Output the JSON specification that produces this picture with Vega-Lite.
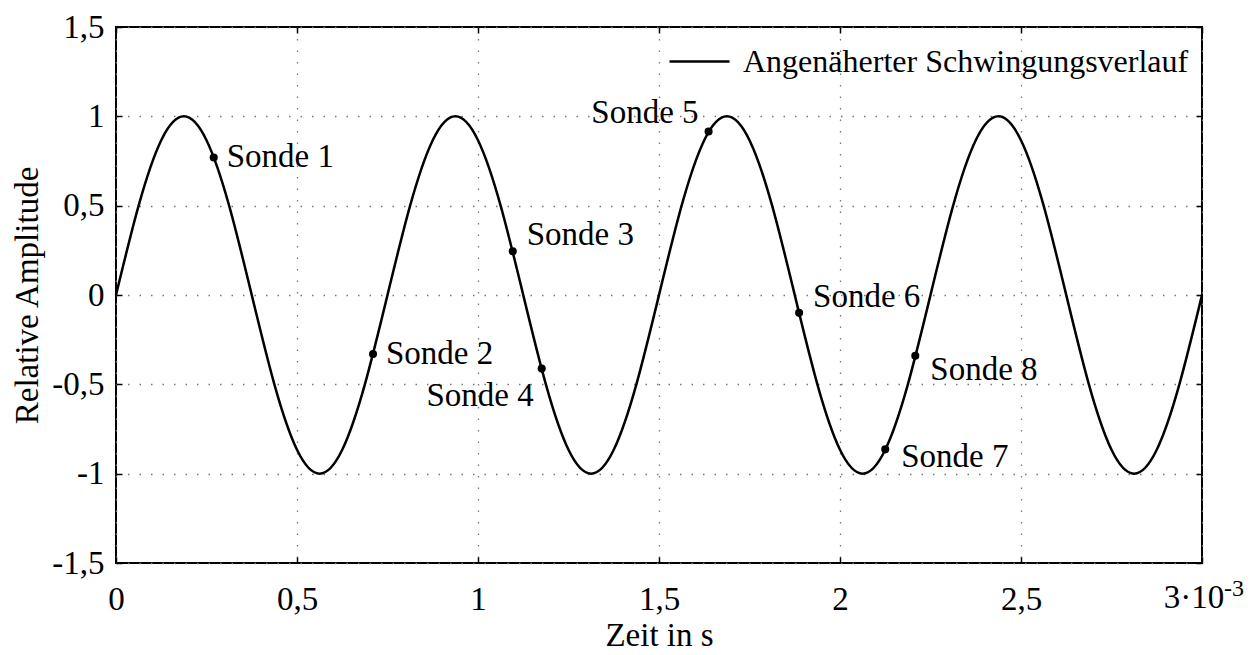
{
  "$schema": "https://vega.github.io/schema/vega-lite/v6.json",
  "width": 1086,
  "height": 536,
  "autosize": "none",
  "padding": {"left": 116, "top": 27, "right": 51, "bottom": 92},
  "background": "white",
  "config": {
    "font": "Liberation Serif",
    "view": {"stroke": "black", "strokeWidth": 2},
    "axis": {
      "domain": false,
      "tickColor": "black",
      "tickWidth": 1.5,
      "tickSize": -6,
      "labelFont": "Liberation Serif",
      "labelFontSize": 33,
      "labelColor": "black",
      "titleFont": "Liberation Serif",
      "titleFontSize": 33,
      "titleFontWeight": "normal",
      "titleColor": "black",
      "gridColor": "#777777",
      "gridWidth": 1.3,
      "gridDash": [1.5, 10]
    }
  },
  "datasets": {
    "verlauf": [
      {"t": 0, "a": 0}, {"t": 0.0625, "a": 0.5}, {"t": 0.125, "a": 0.866}, {"t": 0.1875, "a": 1},
      {"t": 0.25, "a": 0.866}, {"t": 0.3125, "a": 0.5}, {"t": 0.375, "a": 0}, {"t": 0.4375, "a": -0.5},
      {"t": 0.5, "a": -0.866}, {"t": 0.5625, "a": -1}, {"t": 0.625, "a": -0.866}, {"t": 0.6875, "a": -0.5},
      {"t": 0.75, "a": 0}, {"t": 0.8125, "a": 0.5}, {"t": 0.875, "a": 0.866}, {"t": 0.9375, "a": 1},
      {"t": 1.0, "a": 0.866}, {"t": 1.0625, "a": 0.5}, {"t": 1.125, "a": 0}, {"t": 1.1875, "a": -0.5},
      {"t": 1.25, "a": -0.866}, {"t": 1.3125, "a": -1}, {"t": 1.375, "a": -0.866}, {"t": 1.4375, "a": -0.5},
      {"t": 1.5, "a": 0}, {"t": 1.5625, "a": 0.5}, {"t": 1.625, "a": 0.866}, {"t": 1.6875, "a": 1},
      {"t": 1.75, "a": 0.866}, {"t": 1.8125, "a": 0.5}, {"t": 1.875, "a": 0}, {"t": 1.9375, "a": -0.5},
      {"t": 2.0, "a": -0.866}, {"t": 2.0625, "a": -1}, {"t": 2.125, "a": -0.866}, {"t": 2.1875, "a": -0.5},
      {"t": 2.25, "a": 0}, {"t": 2.3125, "a": 0.5}, {"t": 2.375, "a": 0.866}, {"t": 2.4375, "a": 1},
      {"t": 2.5, "a": 0.866}, {"t": 2.5625, "a": 0.5}, {"t": 2.625, "a": 0}, {"t": 2.6875, "a": -0.5},
      {"t": 2.75, "a": -0.866}, {"t": 2.8125, "a": -1}, {"t": 2.875, "a": -0.866}, {"t": 2.9375, "a": -0.5},
      {"t": 3.0, "a": 0}
    ],
    "sonden": [
      {"name": "Sonde 1", "t": 0.27, "a": 0.77},
      {"name": "Sonde 2", "t": 0.71, "a": -0.33},
      {"name": "Sonde 3", "t": 1.096, "a": 0.245},
      {"name": "Sonde 4", "t": 1.176, "a": -0.412},
      {"name": "Sonde 5", "t": 1.637, "a": 0.915},
      {"name": "Sonde 6", "t": 1.887, "a": -0.1},
      {"name": "Sonde 7", "t": 2.125, "a": -0.864},
      {"name": "Sonde 8", "t": 2.208, "a": -0.34}
    ],
    "skala": [
      {"t": 3, "a": -1.5, "basis": "3·10", "exponent": "-3"}
    ]
  },
  "resolve": {"axis": {"x": "independent", "y": "independent"}},
  "layer": [
    {
      "data": {"name": "verlauf"},
      "mark": {"type": "line", "interpolate": "natural", "strokeWidth": 2.5},
      "encoding": {
        "x": {
          "field": "t", "type": "quantitative",
          "scale": {"domain": [0, 3], "nice": false},
          "axis": {
            "values": [0, 0.5, 1, 1.5, 2, 2.5, 3],
            "labelExpr": "datum.value == 3 ? '' : replace(toString(datum.value), '.', ',')",
            "labelPadding": 26,
            "labelFlush": false,
            "grid": true,
            "title": "Zeit in s",
            "titlePadding": 3
          }
        },
        "y": {
          "field": "a", "type": "quantitative",
          "scale": {"domain": [-1.5, 1.5], "nice": false},
          "axis": {
            "values": [-1.5, -1, -0.5, 0, 0.5, 1, 1.5],
            "labelExpr": "replace(toString(datum.value), '.', ',')",
            "labelPadding": 18,
            "labelFlush": false,
            "grid": true,
            "title": "Relative Amplitude",
            "titlePadding": 7
          }
        },
        "color": {
          "datum": "Angenäherter Schwingungsverlauf",
          "type": "nominal",
          "scale": {"range": ["black"]},
          "legend": {
            "title": null,
            "orient": "none",
            "legendX": 552,
            "legendY": 3,
            "padding": 0,
            "symbolType": "stroke",
            "symbolSize": 3600,
            "symbolStrokeWidth": 2.5,
            "symbolStrokeColor": "black",
            "labelOffset": 12,
            "labelFont": "Liberation Serif",
            "labelFontSize": 32,
            "labelColor": "black",
            "labelLimit": 600
          }
        }
      }
    },
    {
      "data": {"name": "sonden"},
      "mark": {"type": "circle", "size": 65, "color": "black", "opacity": 1},
      "encoding": {
        "x": {
          "field": "t", "type": "quantitative",
          "axis": {"orient": "top", "values": [0, 0.5, 1, 1.5, 2, 2.5, 3], "labels": false, "title": null, "grid": false}
        },
        "y": {
          "field": "a", "type": "quantitative",
          "axis": {"orient": "right", "values": [-1.5, -1, -0.5, 0, 0.5, 1, 1.5], "labels": false, "title": null, "grid": false}
        }
      }
    },
    {
      "data": {"name": "skala"},
      "mark": {"type": "text", "align": "center", "baseline": "middle", "dx": -8, "dy": 35, "fontSize": 33, "font": "Liberation Serif", "color": "black"},
      "encoding": {
        "x": {"field": "t", "type": "quantitative", "axis": null},
        "y": {"field": "a", "type": "quantitative", "axis": null},
        "text": {"field": "basis"}
      }
    },
    {
      "data": {"name": "skala"},
      "mark": {"type": "text", "align": "left", "baseline": "middle", "dx": 22, "dy": 26, "fontSize": 24, "font": "Liberation Serif", "color": "black"},
      "encoding": {
        "x": {"field": "t", "type": "quantitative", "axis": null},
        "y": {"field": "a", "type": "quantitative", "axis": null},
        "text": {"field": "exponent"}
      }
    },
    {
      "data": {"name": "sonden"},
      "transform": [{"filter": {"field": "name", "oneOf": ["Sonde 1", "Sonde 2"]}}],
      "mark": {"type": "text", "align": "left", "baseline": "middle", "dx": 13, "dy": 0, "fontSize": 33, "font": "Liberation Serif", "color": "black"},
      "encoding": {
        "x": {"field": "t", "type": "quantitative", "axis": null},
        "y": {"field": "a", "type": "quantitative", "axis": null},
        "text": {"field": "name"}
      }
    },
    {
      "data": {"name": "sonden"},
      "transform": [{"filter": {"field": "name", "oneOf": ["Sonde 3", "Sonde 6"]}}],
      "mark": {"type": "text", "align": "left", "baseline": "middle", "dx": 14, "dy": -16, "fontSize": 33, "font": "Liberation Serif", "color": "black"},
      "encoding": {
        "x": {"field": "t", "type": "quantitative", "axis": null},
        "y": {"field": "a", "type": "quantitative", "axis": null},
        "text": {"field": "name"}
      }
    },
    {
      "data": {"name": "sonden"},
      "transform": [{"filter": {"field": "name", "equal": "Sonde 7"}}],
      "mark": {"type": "text", "align": "left", "baseline": "middle", "dx": 16, "dy": 8, "fontSize": 33, "font": "Liberation Serif", "color": "black"},
      "encoding": {
        "x": {"field": "t", "type": "quantitative", "axis": null},
        "y": {"field": "a", "type": "quantitative", "axis": null},
        "text": {"field": "name"}
      }
    },
    {
      "data": {"name": "sonden"},
      "transform": [{"filter": {"field": "name", "equal": "Sonde 8"}}],
      "mark": {"type": "text", "align": "left", "baseline": "middle", "dx": 15, "dy": 14, "fontSize": 33, "font": "Liberation Serif", "color": "black"},
      "encoding": {
        "x": {"field": "t", "type": "quantitative", "axis": null},
        "y": {"field": "a", "type": "quantitative", "axis": null},
        "text": {"field": "name"}
      }
    },
    {
      "data": {"name": "sonden"},
      "transform": [{"filter": {"field": "name", "equal": "Sonde 4"}}],
      "mark": {"type": "text", "align": "right", "baseline": "middle", "dx": -8, "dy": 27, "fontSize": 33, "font": "Liberation Serif", "color": "black"},
      "encoding": {
        "x": {"field": "t", "type": "quantitative", "axis": null},
        "y": {"field": "a", "type": "quantitative", "axis": null},
        "text": {"field": "name"}
      }
    },
    {
      "data": {"name": "sonden"},
      "transform": [{"filter": {"field": "name", "equal": "Sonde 5"}}],
      "mark": {"type": "text", "align": "right", "baseline": "middle", "dx": -10, "dy": -19, "fontSize": 33, "font": "Liberation Serif", "color": "black"},
      "encoding": {
        "x": {"field": "t", "type": "quantitative", "axis": null},
        "y": {"field": "a", "type": "quantitative", "axis": null},
        "text": {"field": "name"}
      }
    }
  ]
}
